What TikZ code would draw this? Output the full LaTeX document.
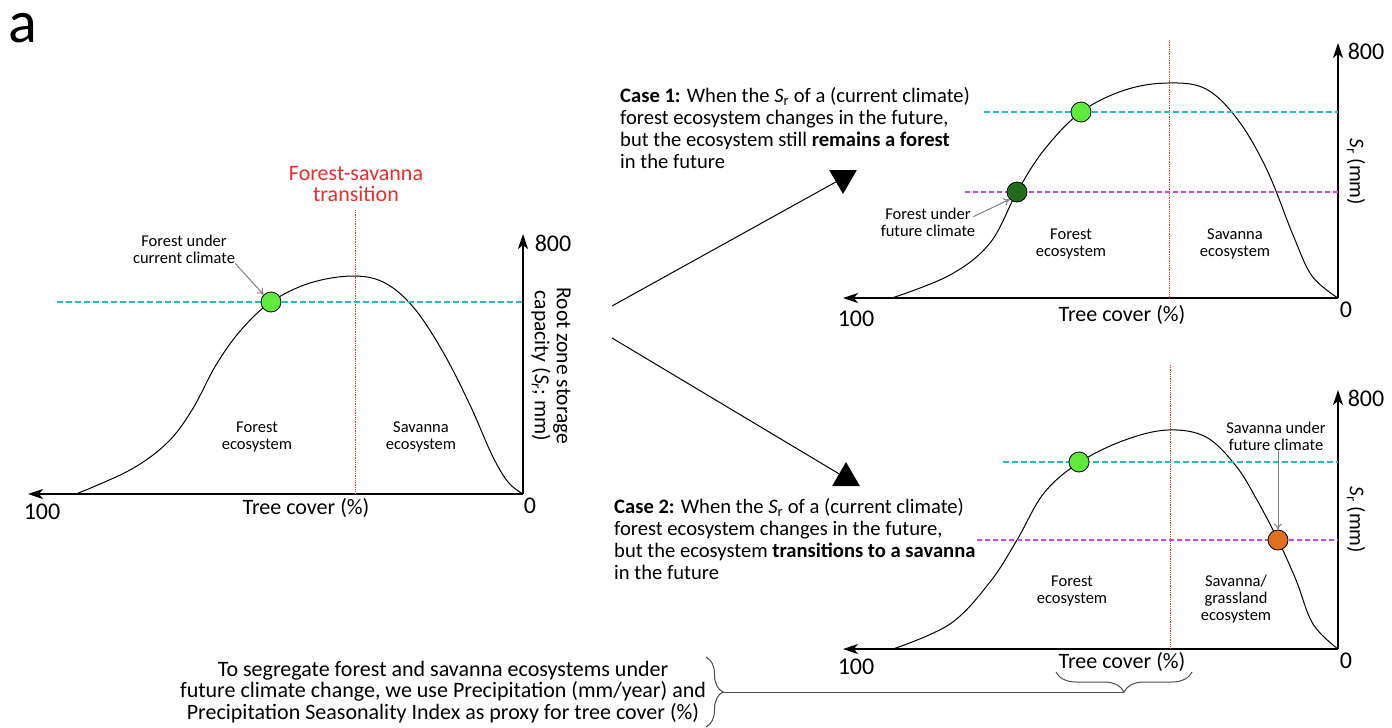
\documentclass[tikz,border=0pt]{standalone}
\usepackage{fontspec}
\setmainfont{Carlito}
\usepackage{tikz}
\usetikzlibrary{shapes,arrows,arrows.meta,decorations.pathreplacing}

\definecolor{tealdash}{RGB}{45,185,195}
\definecolor{magdash}{RGB}{205,70,235}
\definecolor{redline}{RGB}{235,45,45}
\definecolor{lightgreen}{RGB}{95,235,60}
\definecolor{darkgreen}{RGB}{30,110,30}
\definecolor{orangedot}{RGB}{222,112,32}

\tikzset{
  axisline/.style={line width=1.3pt,-{Stealth[length=15pt,width=10pt,inset=4pt]}},
  curveline/.style={line width=1pt,smooth,tension=0.6},
  transline/.style={redline,densely dotted,line width=0.8pt},
  nowline/.style={tealdash,dashed,line width=1.1pt,dash pattern=on 6pt off 3pt},
  futline/.style={magdash,dashed,line width=1.1pt,dash pattern=on 5pt off 3pt},
  statedot/.style={circle,draw=black,line width=0.8pt,minimum width=18pt,minimum height=20pt,inner sep=0pt},
  pointer/.style={gray,line width=1pt,-{To[length=6pt,width=8pt]}},
  smalltext/.style={inner sep=0pt,align=center,font=\fontsize{16.5}{16.8}\selectfont},
  casetext/.style={inner sep=0pt,align=left,anchor=west,font=\fontsize{20.6}{21.8}\selectfont},
  numtext/.style={inner sep=0pt,font=\fontsize{24}{26}\selectfont},
  axistext/.style={inner sep=0pt,font=\fontsize{22}{24}\selectfont},
  ylabtext/.style={inner sep=0pt,rotate=-90,align=center,font=\fontsize{21.5}{22}\selectfont},
  casearrow/.style={regular polygon,regular polygon sides=3,fill=black,minimum size=32pt,inner sep=0pt},
  bracedeco/.style={decorate,decoration={brace,amplitude=#1},line width=1pt,gray!60!black}
}

\begin{document}
\begin{tikzpicture}[x=1pt,y=-1pt]

\useasboundingbox (0,0) rectangle (1392,728);

\node[inner sep=0pt,font=\fontsize{60}{62}\selectfont] (panel) at (23,28) {a};

% current climate
\coordinate (o1) at (523,494);
\coordinate (x1) at (28,494);
\coordinate (y1) at (523,234);
\draw[axisline] (o1) -- (x1);
\draw[axisline] (o1) -- (y1);
\draw[curveline] plot coordinates {(76,494) (130,470) (167,443) (192,410) (216,365) (241,330) (271,302) (310,283) (353,276) (385,283) (414,308) (443,352) (470,405) (492,455) (508,482) (523,494)};
\coordinate (t1top) at (355,210);
\coordinate (t1bot) at (355,494);
\draw[transline] (t1top) -- (t1bot);
\coordinate (n1a) at (57,302);
\coordinate (n1b) at (523,302);
\draw[nowline] (n1a) -- (n1b);
\node[statedot,fill=lightgreen] (dot1) at (271,302) {};
\node[smalltext] (lab1) at (184,249) {Forest under\\current climate};
\draw[pointer] (lab1.south east) -- (dot1.north west);
\node[smalltext,text=redline,font=\fontsize{22}{21.5}\selectfont] (trans) at (356,184) {Forest-savanna\\transition};
\node[smalltext] (for1) at (257,437) {Forest\\ecosystem};
\node[smalltext] (sav1) at (421,437) {Savanna\\ecosystem};
\node[numtext] (top1) at (553,243) {800};
\node[numtext] (zero1) at (530,506) {0};
\node[numtext] (hun1) at (42,512) {100};
\node[axistext] (tree1) at (306,508) {Tree cover (\%)};
\node[ylabtext] (ylab1) at (551,366) {Root zone storage\\capacity (\textit{S}\textsubscript{\textit{r}}; mm)};

% case 1
\coordinate (o2) at (1338,298);
\coordinate (x2) at (843,298);
\coordinate (y2) at (1338,43);
\draw[axisline] (o2) -- (x2);
\draw[axisline] (o2) -- (y2);
\draw[curveline] plot coordinates {(892,298) (950,275) (990,243) (1017,192) (1044,150) (1081,112) (1125,90) (1168,83) (1206,89) (1238,120) (1267,170) (1293,235) (1312,276) (1338,298)};
\coordinate (t2top) at (1169,40);
\coordinate (t2bot) at (1169,298);
\draw[transline] (t2top) -- (t2bot);
\coordinate (n2a) at (984,112);
\coordinate (n2b) at (1338,112);
\draw[nowline] (n2a) -- (n2b);
\coordinate (f2a) at (965,192);
\coordinate (f2b) at (1338,192);
\draw[futline] (f2a) -- (f2b);
\node[statedot,fill=lightgreen] (dot2a) at (1081,112) {};
\node[statedot,fill=darkgreen] (dot2b) at (1017,192) {};
\node[smalltext] (lab2) at (928,222) {Forest under\\future climate};
\draw[pointer] ([xshift=-2pt,yshift=-9pt]lab2.north east) -- (dot2b.south west);
\node[smalltext] (for2) at (1071,244) {Forest\\ecosystem};
\node[smalltext] (sav2) at (1235,244) {Savanna\\ecosystem};
\node[numtext] (top2) at (1366,51) {800};
\node[numtext] (zero2) at (1346,310) {0};
\node[numtext] (hun2) at (856,319) {100};
\node[axistext] (tree2) at (1122,315) {Tree cover (\%)};
\node[ylabtext,font=\fontsize{21}{22}\selectfont] (ylab2) at (1356,172) {\textit{S}\textsubscript{r} (mm)};
\node[casetext] (case1) at (620,128) {\textbf{Case 1:} When the \textit{S}\textsubscript{r} of a (current climate)\\forest ecosystem changes in the future,\\but the ecosystem still \textbf{remains a forest}\\in the future};
\node[casearrow,shape border rotate=180] (tri1) at (843,178) {};
\coordinate (split1) at (612,306);
\draw[line width=1pt] (split1) -- (tri1);

% case 2
\coordinate (o3) at (1338,649);
\coordinate (x3) at (843,649);
\coordinate (y3) at (1338,390);
\draw[axisline] (o3) -- (x3);
\draw[axisline] (o3) -- (y3);
\draw[curveline] plot coordinates {(893,649) (950,624) (990,582) (1017,540) (1044,493) (1080,462) (1125,440) (1168,430) (1206,437) (1236,466) (1257,500) (1278,540) (1296,580) (1313,624) (1338,649)};
\coordinate (t3top) at (1170,365);
\coordinate (t3bot) at (1170,649);
\draw[transline] (t3top) -- (t3bot);
\coordinate (n3a) at (1003,462);
\coordinate (n3b) at (1338,462);
\draw[nowline] (n3a) -- (n3b);
\coordinate (f3a) at (977,540);
\coordinate (f3b) at (1338,540);
\draw[futline] (f3a) -- (f3b);
\node[statedot,fill=lightgreen] (dot3a) at (1079,462) {};
\node[statedot,fill=orangedot] (dot3b) at (1278,540) {};
\node[smalltext] (lab3) at (1276,436) {Savanna under\\future climate};
\draw[pointer] (lab3.south -| dot3b.north) -- (dot3b.north);
\node[smalltext] (for3) at (1072,591) {Forest\\ecosystem};
\node[smalltext] (sav3) at (1236,599) {Savanna/\\grassland\\ecosystem};
\node[numtext] (top3) at (1366,398) {800};
\node[numtext] (zero3) at (1346,661) {0};
\node[numtext] (hun3) at (856,667) {100};
\node[axistext] (tree3) at (1122,662) {Tree cover (\%)};
\node[ylabtext,font=\fontsize{21}{22}\selectfont] (ylab3) at (1356,520) {\textit{S}\textsubscript{r} (mm)};
\node[casetext] (case2) at (614,539) {\textbf{Case 2:} When the \textit{S}\textsubscript{r} of a (current climate)\\forest ecosystem changes in the future,\\but the ecosystem \textbf{transitions to a savanna}\\in the future};
\node[casearrow] (tri2) at (846,478) {};
\coordinate (split2) at (612,338);
\draw[line width=1pt] (split2) -- (tri2);

% proxy note
\node[smalltext,font=\fontsize{22}{21.5}\selectfont] (proxy) at (443,692) {To segregate forest and savanna ecosystems under\\future climate change, we use Precipitation (mm/year) and\\Precipitation Seasonality Index as proxy for tree cover (\%)};
\coordinate (bra) at (706,657);
\coordinate (brb) at (706,727);
\draw[bracedeco=17pt] (bra) -- (brb);
\coordinate (brc) at (1192,672);
\coordinate (brd) at (1056,672);
\draw[bracedeco=20pt] (brc) -- (brd);
\coordinate (tipa) at (723,692);
\coordinate (tipb) at (1124,692);
\draw[line width=0.9pt,gray!60!black] (tipa) -- (tipb);

\end{tikzpicture}
\end{document}
